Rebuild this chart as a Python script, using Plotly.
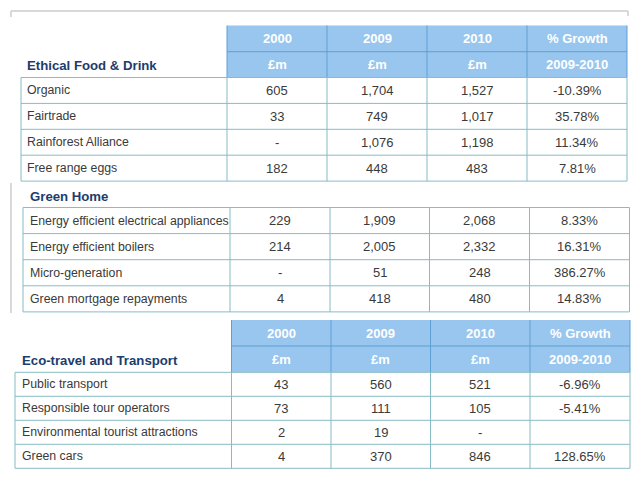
import plotly.graph_objects as go

# ---------------- data ----------------
head_years = ["2000", "2009", "2010", "% Growth"]
head_units = ["£m", "£m", "£m", "2009-2010"]

sec1_title = "Ethical Food & Drink"
sec1_rows = ["Organic", "Fairtrade", "Rainforest Alliance", "Free range eggs"]
sec1_2000 = ["605", "33", "-", "182"]
sec1_2009 = ["1,704", "749", "1,076", "448"]
sec1_2010 = ["1,527", "1,017", "1,198", "483"]
sec1_growth = ["-10.39%", "35.78%", "11.34%", "7.81%"]

sec2_title = "Green Home"
sec2_rows = ["Energy efficient electrical appliances", "Energy efficient boilers",
             "Micro-generation", "Green mortgage repayments"]
sec2_2000 = ["229", "214", "-", "4"]
sec2_2009 = ["1,909", "2,005", "51", "418"]
sec2_2010 = ["2,068", "2,332", "248", "480"]
sec2_growth = ["8.33%", "16.31%", "386.27%", "14.83%"]

sec3_title = "Eco-travel and Transport"
sec3_rows = ["Public transport", "Responsible tour operators",
             "Environmental tourist attractions", "Green cars"]
sec3_2000 = ["43", "73", "2", "4"]
sec3_2009 = ["560", "111", "19", "370"]
sec3_2010 = ["521", "105", "-", "846"]
sec3_growth = ["-6.96%", "-5.41%", "", "128.65%"]

# ---------------- style ----------------
FONT = "Liberation Sans Narrow, Arial Narrow, Liberation Sans, Arial"
TXT = "#3a3a3a"
NAVY = "#1d3c6e"
GRID = "#86bcc6"
HEAD_FILL = "#98c6ee"
HEAD_LINE = "#5f9fd4"
FRAME = "#cccccc"
LABEL_SIZE = 12.3
NUM_SIZE = 13
HEAD_SIZE = 13
TITLE_SIZE = 13.2

fig = go.Figure()
shapes = []
ann = []


def line(x0, y0, x1, y1, color, w=1):
    shapes.append(dict(type="line", xref="x", yref="y", x0=x0, y0=y0, x1=x1, y1=y1,
                       line=dict(color=color, width=w)))


def rect(x0, y0, x1, y1, fill):
    shapes.append(dict(type="rect", xref="x", yref="y", x0=x0, y0=y0, x1=x1, y1=y1,
                       fillcolor=fill, line=dict(width=0), layer="below"))


def text(x, y, s, size=14, color=TXT, anchor="center", bold=False):
    if bold:
        s = "<b>" + s + "</b>"
    ann.append(dict(x=x, y=y, xref="x", yref="y", text=s, showarrow=False,
                    xanchor=anchor, yanchor="middle",
                    font=dict(family=FONT, size=size, color=color)))


def section(rows, cols, left, colx, ytop, rowh, label_x, header=None, title=None, title_y=None):
    if header is not None:
        hy0, hy1, hy2 = header
        rect(colx[0], hy0, colx[-1], hy2, HEAD_FILL)
        line(colx[0], hy1, colx[-1], hy1, HEAD_LINE)
        for cx in colx:
            line(cx, hy0, cx, hy2, HEAD_LINE)
        for i in range(4):
            xc = (colx[i] + colx[i + 1]) / 2
            text(xc, (hy0 + hy1) / 2, head_years[i], HEAD_SIZE, "white", bold=True)
            text(xc, (hy1 + hy2) / 2, head_units[i], HEAD_SIZE, "white", bold=True)
    if title is not None:
        text(label_x, title_y, title, TITLE_SIZE, NAVY, anchor="left", bold=True)
    n = len(rows)
    ybot = ytop + n * rowh
    for k in range(n + 1):
        line(left, ytop + k * rowh, colx[-1], ytop + k * rowh, GRID)
    line(left, ytop, left, ybot, GRID)
    for cx in colx:
        line(cx, ytop, cx, ybot, GRID)
    for r in range(n):
        yc = ytop + (r + 0.5) * rowh
        text(label_x, yc, rows[r], LABEL_SIZE, TXT, anchor="left")
        for i in range(4):
            xc = (colx[i] + colx[i + 1]) / 2
            text(xc, yc, cols[i][r], NUM_SIZE, TXT)


# outer light frame pieces
line(11, 11, 628, 11, FRAME, 1.5)
line(11, 11, 11, 17, FRAME, 1.5)
line(628, 11, 628, 16, FRAME, 1.5)
line(11, 183, 11, 313, FRAME, 1.5)

section(sec1_rows, [sec1_2000, sec1_2009, sec1_2010, sec1_growth],
        left=21, colx=[227, 327, 427, 527, 627], ytop=77.5, rowh=25.9, label_x=25,
        header=(25.5, 51.7, 77.5), title=sec1_title, title_y=65)

section(sec2_rows, [sec2_2000, sec2_2009, sec2_2010, sec2_growth],
        left=23, colx=[230, 330, 429.5, 529.5, 629.5], ytop=207.5, rowh=26.1, label_x=28,
        title=sec2_title, title_y=196)

section(sec3_rows, [sec3_2000, sec3_2009, sec3_2010, sec3_growth],
        left=15, colx=[231.5, 331, 430.5, 530, 630], ytop=372.3, rowh=24, label_x=20,
        header=(320, 346, 372.3), title=sec3_title, title_y=360.5)

# the page body has an 8px margin: size the figure to fit inside the window
# and offset the axis ranges so that data units equal window pixels
OFF = 8
W, H = 640 - 2 * OFF, 480 - 2 * OFF
fig.update_layout(
    width=W, height=H, margin=dict(l=0, r=0, t=0, b=0),
    paper_bgcolor="white", plot_bgcolor="white",
    xaxis=dict(range=[OFF, OFF + W], visible=False, fixedrange=True),
    yaxis=dict(range=[OFF + H, OFF], visible=False, fixedrange=True),
    shapes=shapes, annotations=ann, showlegend=False,
)
fig.write_html("out.html")
